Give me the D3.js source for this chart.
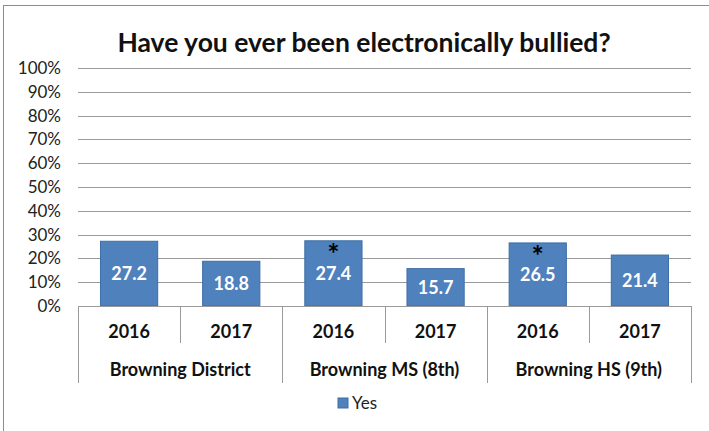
<!DOCTYPE html>
<html><head><meta charset="utf-8">
<script src="https://cdn.jsdelivr.net/npm/d3@7"></script>
<style>
body{margin:0;background:#fff;}
text{font-family:Lato,"Liberation Sans",sans-serif;}
</style></head>
<body><svg id="c" width="709" height="431"></svg>
<script>
const groups = ["Browning District","Browning MS (8th)","Browning HS (9th)"];
const years = ["2016","2017"];
const yesValues = [27.2,18.8,27.4,15.7,26.5,21.4];
const starred = [false,false,true,false,true,false];
const yTicks = [0,10,20,30,40,50,60,70,80,90,100];
const title = "Have you ever been electronically bullied?";
const seriesName = "Yes";

const rows = [];
groups.forEach((g,gi)=>years.forEach((yr,yi)=>{
  const i = gi*years.length+yi;
  rows.push({key:g+"|"+yr, group:g, year:yr, value:yesValues[i], star:starred[i]});
}));

const svg = d3.select("#c");
const plotLeft = 78, plotRight = 691, plotTop = 68, plotBase = 306;

svg.append("rect").attr("x",3.5).attr("y",5.5).attr("width",720).attr("height",440)
  .attr("fill","#fff").attr("stroke","#8c8c8c").attr("stroke-width",1);

svg.append("text").attr("x",364).attr("y",52).attr("text-anchor","middle")
  .attr("font-size",26.5).attr("font-weight","bold").attr("fill","#111").text(title);

const x = d3.scaleBand().domain(rows.map(d=>d.key)).range([plotLeft,plotRight]).paddingInner(0.44).paddingOuter(0.22);
const y = d3.scaleLinear().domain([0,100]).range([plotBase,plotTop]);

svg.append("g").selectAll("line").data(yTicks.filter(t=>t>0)).join("line")
  .attr("x1",plotLeft).attr("x2",plotRight).attr("y1",d=>Math.round(y(d))+0.5).attr("y2",d=>Math.round(y(d))+0.5)
  .attr("stroke","#9a9a9a").attr("stroke-width",1);

const yAxis = d3.axisLeft(y).tickValues(yTicks).tickFormat(d=>d+"%").tickSize(0).tickPadding(0);
const ga = svg.append("g").attr("transform",`translate(${plotLeft-17},0)`).call(yAxis);
ga.select(".domain").remove();
ga.selectAll("text").attr("font-family","Lato,sans-serif").attr("font-size",17).attr("fill","#222");

svg.append("g").selectAll("rect").data(rows).join("rect")
  .attr("x",d=>x(d.key)).attr("width",x.bandwidth())
  .attr("y",d=>y(d.value)).attr("height",d=>plotBase-y(d.value))
  .attr("fill","#4f81bd").attr("stroke","#3d6ea6").attr("stroke-width",1);

svg.append("g").selectAll("text").data(rows).join("text")
  .attr("x",d=>x(d.key)+x.bandwidth()/2).attr("y",d=>(y(d.value)+plotBase)/2)
  .attr("dy","0.36em").attr("text-anchor","middle").attr("font-size",18).attr("font-weight","bold")
  .attr("fill","#fff").text(d=>d.value.toFixed(1));

svg.append("g").selectAll("text").data(rows.filter(d=>d.star)).join("text")
  .attr("x",d=>x(d.key)+x.bandwidth()/2).attr("y",d=>y(d.value)+23)
  .attr("text-anchor","middle").attr("font-size",29).attr("font-weight","bold").attr("fill","#000").text("*");

svg.append("line").attr("x1",plotLeft).attr("x2",plotRight).attr("y1",plotBase+0.5).attr("y2",plotBase+0.5).attr("stroke","#9a9a9a");

const step = x.step();
const seps = d3.range(rows.length+1).map(i=>({x:plotLeft+i*step, major:i%years.length===0}));
svg.append("g").selectAll("line").data(seps).join("line")
  .attr("x1",d=>Math.round(d.x)+0.5).attr("x2",d=>Math.round(d.x)+0.5)
  .attr("y1",plotBase).attr("y2",d=>d.major?383:343).attr("stroke","#9a9a9a");

svg.append("g").selectAll("text").data(rows).join("text")
  .attr("x",d=>x(d.key)+x.bandwidth()/2).attr("y",332).attr("dy","0.36em")
  .attr("text-anchor","middle").attr("font-size",18).attr("font-weight","bold").attr("fill","#111").text(d=>d.year);

svg.append("g").selectAll("text").data(groups).join("text")
  .attr("x",(d,i)=>plotLeft+(i+0.5)*step*years.length).attr("y",370).attr("dy","0.36em")
  .attr("text-anchor","middle").attr("font-size",18).attr("font-weight","bold").attr("fill","#111").text(d=>d);

const lg = svg.append("g").attr("transform","translate(338,398)");
lg.append("rect").attr("width",10).attr("height",10).attr("fill","#4f81bd").attr("stroke","#3d6ea6");
lg.append("text").attr("x",14).attr("y",5).attr("dy","0.36em").attr("font-size",17).attr("fill","#222").text(seriesName);
</script></body></html>
